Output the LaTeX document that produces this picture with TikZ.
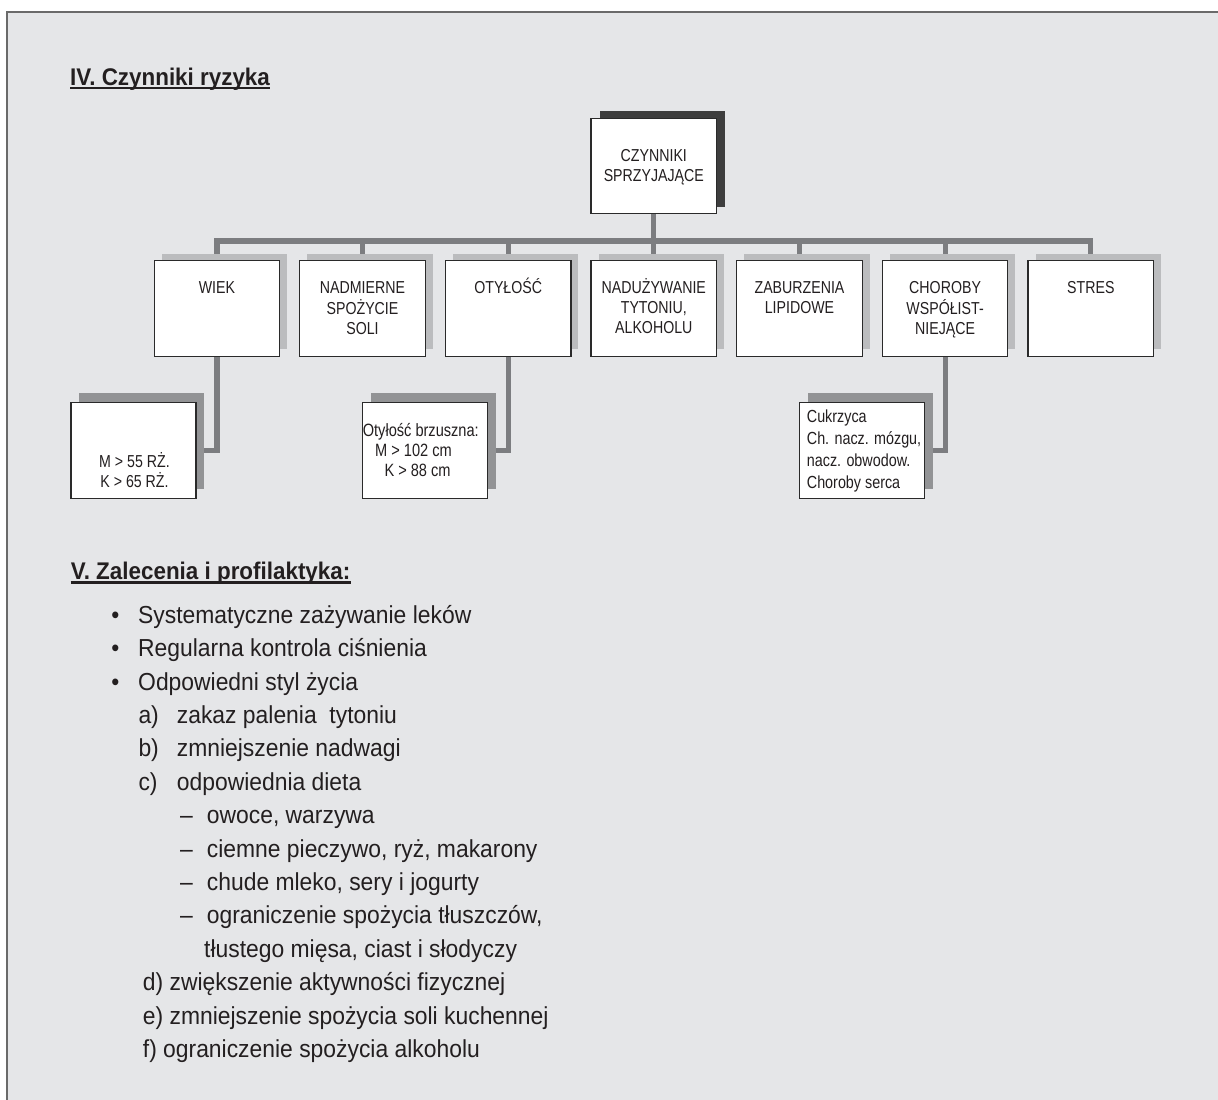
\documentclass[tikz,border=0pt]{standalone}
\usepackage{fontspec}
\setmainfont{Liberation Sans}
\newfontfamily\boxfont{Liberation Sans}[FakeStretch=0.82]
\newfontfamily\listfont{Liberation Sans}[FakeStretch=0.93]
\usetikzlibrary{shadows}
\pgfdeclarelayer{back}
\pgfdeclarelayer{conn}
\pgfsetlayers{back,conn,main}
\definecolor{framebg}{HTML}{E5E6E8}
\definecolor{frameline}{HTML}{6A6A6A}
\definecolor{conncol}{HTML}{7C7D80}
\definecolor{rowsh}{HTML}{BBBCBE}
\definecolor{subsh}{HTML}{929395}
\definecolor{topsh}{HTML}{3E3E3E}
\definecolor{boxline}{HTML}{2A2A2A}
\definecolor{txt}{HTML}{231F20}
\newcommand{\mlines}[2]{\begin{tabular}[t]{@{}#1@{}}#2\end{tabular}}
\tikzset{
  box/.style={draw=boxline, line width=1.2pt, fill=white, minimum width=125.5pt, minimum height=95.3pt, inner sep=0pt, outer sep=0pt},
  topbox/.style={box, drop shadow={shadow xshift=8.5pt, shadow yshift=6.7pt, fill=topsh, opacity=1}},
  rowbox/.style={box, drop shadow={shadow xshift=7.5pt, shadow yshift=7.3pt, fill=rowsh, opacity=1}},
  subbox/.style={box, minimum width=125pt, drop shadow={shadow xshift=8.3pt, shadow yshift=9.5pt, fill=subsh, opacity=1}},
  btext/.style={anchor=base, inner sep=0pt, text=txt, font=\boxfont\fontsize{17.3}{19.8}\selectfont},
  stext/.style={anchor=base west, inner sep=0pt, text=txt, font=\boxfont\fontsize{17.8}{20}\selectfont},
  connline/.style={draw=conncol, line width=5.2pt, line join=miter},
  head/.style={anchor=base west, inner sep=0pt, text=txt, font=\listfont\bfseries\fontsize{24.1}{28}\selectfont},
  litem/.style={anchor=base west, inner sep=0pt, text=txt, font=\listfont\fontsize{24.6}{30}\selectfont},
  lbullet/.style={anchor=base, inner sep=0pt, text=txt, font=\listfont\fontsize{24.6}{30}\selectfont},
}
\begin{document}
\begin{tikzpicture}[x=1pt,y=-1pt]
\useasboundingbox (0,0) rectangle (1218,1100);
\begin{pgfonlayer}{back}
  \fill[white] (0,0) rectangle (1218,1100);
  \fill[framebg] (7,12) rectangle (1218,1100);
  \draw[frameline, line width=2pt] (7,1100) -- (7,12) -- (1218,12);
\end{pgfonlayer}

% headings
\node[head] (h4) at (70,85) {IV. Czynniki ryzyka};
\draw[txt, line width=2.2pt] ([yshift=-3pt]h4.base west) -- ([yshift=-3pt]h4.base east);

% top box
\node[topbox] (top) at (653.8,165.8) {};
\node[btext] (top-t) at (653.8,161.7) {\mlines{c}{CZYNNIKI\\SPRZYJAJĄCE}};

% row boxes
\node[rowbox] (wiek) at (216.9,308.5) {};
\node[rowbox] (sol)  at (362.5,308.5) {};
\node[rowbox] (otyl) at (508.2,308.5) {};
\node[rowbox] (tyt)  at (653.8,308.5) {};
\node[rowbox] (lip)  at (799.5,308.5) {};
\node[rowbox] (chor) at (945.1,308.5) {};
\node[rowbox] (stres) at (1090.8,308.5) {};

\node[btext] (wiek-t) at (216.9,293.5) {WIEK};
\node[btext] (sol-t)  at (362.5,293.5) {\mlines{c}{NADMIERNE\\SPOŻYCIE\\SOLI}};
\node[btext] (otyl-t) at (508.2,293.5) {OTYŁOŚĆ};
\node[btext] (tyt-t)  at (653.8,293.5) {\mlines{c}{NADUŻYWANIE\\TYTONIU,\\ALKOHOLU}};
\node[btext] (lip-t)  at (799.5,293.5) {\mlines{c}{ZABURZENIA\\LIPIDOWE}};
\node[btext] (chor-t) at (945.1,293.5) {\mlines{c}{CHOROBY\\WSPÓŁIST-\\NIEJĄCE}};
\node[btext] (stres-t) at (1090.8,293.5) {STRES};

% sub boxes
\node[subbox] (m55) at (133.5,450.5) {};
\node[subbox] (brz) at (425,450.5) {};
\node[subbox] (cuk) at (862.2,450.5) {};

\node[btext] (m55-t) at (134.5,467) {\mlines{c}{M > 55 RŻ.\\K > 65 RŻ.}};
\node[stext] (brz-t1) at (362.6,436.7) {Otyłość brzuszna:};
\node[stext] (brz-t2) at (375,456.7) {M > 102 cm};
\node[stext] (brz-t3) at (384.3,476.7) {K > 88 cm};
\node[stext, font=\boxfont\fontsize{17.5}{22}\selectfont] (cuk-t) at (806.7,422.5) {\mlines{l}{Cukrzyca\\Ch. nacz. mózgu,\\nacz. obwodow.\\Choroby serca}};

% connectors
\coordinate (bar) at (0,241);
\begin{pgfonlayer}{conn}
  \draw[connline] (top.south) -- (top.south |- bar);
  \draw[connline] (wiek.north) -- (wiek.north |- bar) -- (stres.north |- bar) -- (stres.north);
  \foreach \b in {sol,otyl,tyt,lip,chor} {
    \draw[connline] (\b.north |- bar) -- (\b.north);
  }
  \draw[connline] (wiek.south) |- (m55.east);
  \draw[connline] (otyl.south) |- (brz.east);
  \draw[connline] (chor.south) |- (cuk.east);
\end{pgfonlayer}

% section V
\node[head] (h5) at (70.7,579.5) {V. Zalecenia i profilaktyka:};
\draw[txt, line width=2.2pt] ([yshift=-3pt]h5.base west) -- ([yshift=-3pt]h5.base east);

\node[lbullet] (b1) at (115.3,623.3) {•};
\node[litem] (l1) at (138,623.3) {Systematyczne zażywanie leków};
\node[lbullet] (b2) at (115.3,656.7) {•};
\node[litem] (l2) at (138,656.7) {Regularna kontrola ciśnienia};
\node[lbullet] (b3) at (115.3,690.1) {•};
\node[litem] (l3) at (138,690.1) {Odpowiedni styl życia};

\node[litem] (la) at (138.3,723.5) {a)};
\node[litem] (la-t) at (176.7,723.5) {zakaz palenia \ tytoniu};
\node[litem] (lb) at (138.3,756.9) {b)};
\node[litem] (lb-t) at (176.7,756.9) {zmniejszenie nadwagi};
\node[litem] (lc) at (138.3,790.3) {c)};
\node[litem] (lc-t) at (176.7,790.3) {odpowiednia dieta};

\node[litem] (d1) at (180,823.7) {–};
\node[litem] (d1-t) at (206.7,823.7) {owoce, warzywa};
\node[litem] (d2) at (180,857.1) {–};
\node[litem] (d2-t) at (206.7,857.1) {ciemne pieczywo, ryż, makarony};
\node[litem] (d3) at (180,890.5) {–};
\node[litem] (d3-t) at (206.7,890.5) {chude mleko, sery i jogurty};
\node[litem] (d4) at (180,923.9) {–};
\node[litem] (d4-t) at (206.7,923.9) {ograniczenie spożycia tłuszczów,};
\node[litem] (d4-u) at (204,957.3) {tłustego mięsa, ciast i słodyczy};

\node[litem] (ld) at (142.7,990.7) {d) zwiększenie aktywności fizycznej};
\node[litem] (le) at (142.7,1024.1) {e) zmniejszenie spożycia soli kuchennej};
\node[litem] (lf) at (142.7,1057.5) {f) ograniczenie spożycia alkoholu};
\end{tikzpicture}
\end{document}
